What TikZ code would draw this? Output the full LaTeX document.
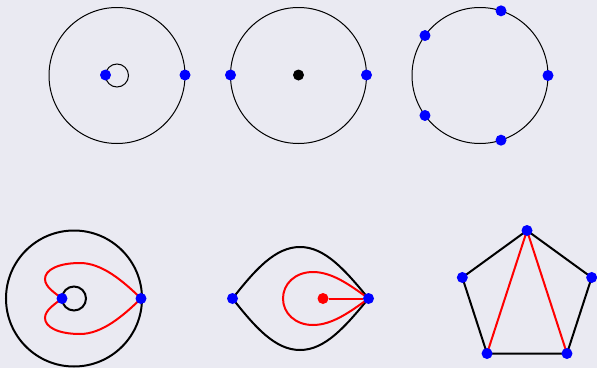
\documentclass[tikz,border=0pt]{standalone}
\usepackage{tikz}
\definecolor{bgpanel}{RGB}{234,234,242}
\begin{document}
\begin{tikzpicture}[x=0.75pt,y=-0.75pt,
  dot/.style={circle,inner sep=0pt,minimum size=8.25pt},
  bdot/.style={dot,fill=blue},
  kdot/.style={dot,fill=black},
  rdot/.style={dot,fill=red},
  fine/.style={draw=black,line width=0.75pt},
  bold/.style={draw=black,line width=1.5pt},
  path/.style={draw=red,line width=1.5pt}]
\fill[bgpanel] (0,0) rectangle (597,368);
\useasboundingbox (0,0) rectangle (597,368);
% top row
\draw[fine] (117,75.5) circle[radius=68];
\draw[fine] (117,75.5) circle[radius=11.5];
\node[bdot] (a1) at (105.5,75) {};
\node[bdot] (a2) at (185,75) {};
\draw[fine] (298.5,75.5) circle[radius=68];
\node[bdot] (b1) at (230.5,75) {};
\node[kdot] (b0) at (298.5,75) {};
\node[bdot] (b2) at (366.5,75) {};
\draw[fine] (480,75.5) circle[radius=68];
\foreach \k in {0,...,4}
  \node[bdot] (c\k) at ({480+68*cos(72*\k)},{75.5-68*sin(72*\k)}) {};
% bottom row
\draw[bold] (74,298.5) circle[radius=68];
\draw[path] (141,298.5) .. controls (123,281) and (102,263) .. (80,263)
  .. controls (58,263) and (45,270) .. (45,279)
  .. controls (45,287) and (55,293) .. (62,298.5)
  .. controls (55,304) and (45,310) .. (45,318)
  .. controls (45,327) and (58,334) .. (80,334)
  .. controls (102,334) and (123,316) .. (141,298.5);
\draw[bold] (74,298.5) circle[radius=12];
\node[bdot] (d1) at (62,298.5) {};
\node[bdot] (d2) at (141,298.5) {};
\draw[bold] (232.5,298.5) .. controls (255,270) and (275,247) .. (300,247)
  .. controls (325,247) and (345,270) .. (368.5,298.5)
  .. controls (345,327) and (325,350) .. (300,350)
  .. controls (275,350) and (255,327) .. (232.5,298.5);
\draw[path] (368.5,298.5) .. controls (350,285) and (332,272) .. (313,272)
  .. controls (295,272) and (283,284) .. (283,298.5)
  .. controls (283,313) and (295,325) .. (313,325)
  .. controls (332,325) and (350,312) .. (368.5,298.5);
\node[rdot] (e0) at (323,298.5) {};
\node[bdot] (e1) at (232.5,298.5) {};
\node[bdot] (e2) at (368.5,298.5) {};
\draw[path] (e0) -- (e2);
% pentagon
\foreach \k in {0,...,4}
  \coordinate (q\k) at ({527+68*cos(90+72*\k)},{298.5-68*sin(90+72*\k)});
\draw[bold,line join=round] (q0) -- (q1) -- (q2) -- (q3) -- (q4) -- cycle;
\draw[path] (q2) -- (q0) -- (q3);
\foreach \k in {0,...,4}
  \node[bdot] (f\k) at (q\k) {};
\end{tikzpicture}
\end{document}
